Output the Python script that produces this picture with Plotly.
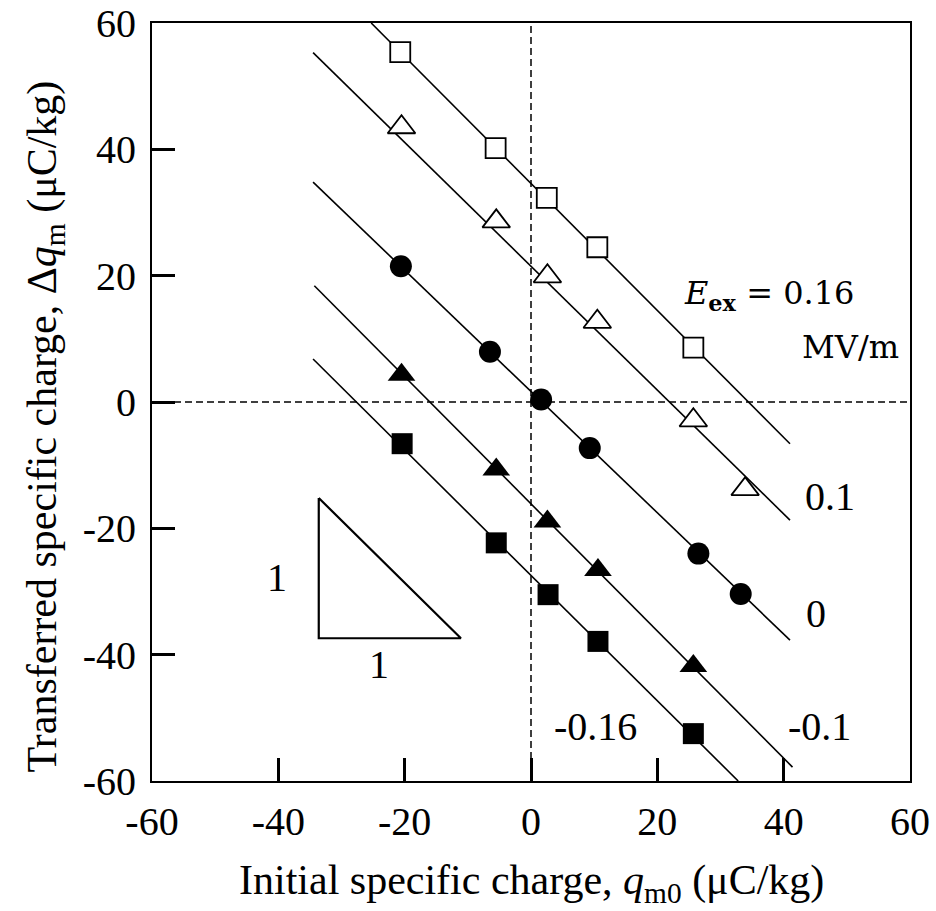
import plotly.graph_objects as go

# ---- data ----
field_labels = ["0.16", "0.1", "0", "-0.1", "-0.16"]

x_open_sq = [-20.7, -5.6, 2.5, 10.5, 25.7]
y_open_sq = [55.4, 40.2, 32.3, 24.5, 8.6]

x_open_tri = [-20.5, -5.5, 2.6, 10.5, 25.7, 33.9]
y_open_tri = [43.5, 28.6, 19.9, 12.7, -2.9, -13.8]

x_circ = [-20.6, -6.5, 1.6, 9.3, 26.5, 33.2]
y_circ = [21.5, 7.95, 0.4, -7.3, -24.0, -30.4]

x_fill_tri = [-20.5, -5.5, 2.6, 10.6, 25.7]
y_fill_tri = [4.3, -10.7, -18.9, -26.6, -41.8]

x_fill_sq = [-20.4, -5.5, 2.7, 10.6, 25.7]
y_fill_sq = [-6.6, -22.3, -30.5, -37.9, -52.5]

# fitted lines (two end points each)
fit_x_016 = [-25.3, 41.0]
fit_y_016 = [60.0, -6.6]
fit_x_01 = [-34.5, 41.0]
fit_y_01 = [55.3, -18.7]
fit_x_0 = [-34.5, 41.0]
fit_y_0 = [34.8, -37.7]
fit_x_m01 = [-34.3, 41.4]
fit_y_m01 = [18.4, -57.8]
fit_x_m016 = [-34.5, 32.8]
fit_y_m016 = [6.8, -60.0]

# slope (1:1) triangle
slope_x = [-33.6, -33.6, -11.1, -33.6]
slope_y = [-15.2, -37.4, -37.4, -15.2]

ticks = [-60, -40, -20, 0, 20, 40, 60]

FONT = "Liberation Serif, Times New Roman, serif"
BLACK = "black"

fig = go.Figure()

# reference dashed zero lines
fig.add_trace(go.Scatter(x=[0, 0], y=[-60, 60], mode="lines",
                         line=dict(color=BLACK, width=1.5, dash="7px,4px"),
                         showlegend=False, hoverinfo="skip"))
fig.add_trace(go.Scatter(x=[-60, 60], y=[0, 0], mode="lines",
                         line=dict(color=BLACK, width=1.5, dash="7px,4px"),
                         showlegend=False, hoverinfo="skip"))

# fit lines
for fx, fy in [(fit_x_016, fit_y_016), (fit_x_01, fit_y_01), (fit_x_0, fit_y_0),
               (fit_x_m01, fit_y_m01), (fit_x_m016, fit_y_m016)]:
    fig.add_trace(go.Scatter(x=fx, y=fy, mode="lines",
                             line=dict(color=BLACK, width=1.6),
                             showlegend=False, hoverinfo="skip"))

# slope triangle
fig.add_trace(go.Scatter(x=slope_x, y=slope_y, mode="lines",
                         line=dict(color=BLACK, width=2.2),
                         showlegend=False, hoverinfo="skip"))

# markers
fig.add_trace(go.Scatter(x=x_open_sq, y=y_open_sq, mode="markers", name=field_labels[0],
                         marker=dict(symbol="square", size=20, color="white",
                                     line=dict(color=BLACK, width=1.8)),
                         showlegend=False, cliponaxis=False))
fig.add_trace(go.Scatter(x=x_open_tri, y=y_open_tri, mode="markers", name=field_labels[1],
                         marker=dict(symbol="triangle-up", size=24, color="white",
                                     line=dict(color=BLACK, width=1.8)),
                         showlegend=False))
fig.add_trace(go.Scatter(x=x_circ, y=y_circ, mode="markers", name=field_labels[2],
                         marker=dict(symbol="circle", size=22, color=BLACK,
                                     line=dict(color=BLACK, width=0)),
                         showlegend=False))
fig.add_trace(go.Scatter(x=x_fill_tri, y=y_fill_tri, mode="markers", name=field_labels[3],
                         marker=dict(symbol="triangle-up", size=24, color=BLACK,
                                     line=dict(color=BLACK, width=0)),
                         showlegend=False))
fig.add_trace(go.Scatter(x=x_fill_sq, y=y_fill_sq, mode="markers", name=field_labels[4],
                         marker=dict(symbol="square", size=21, color=BLACK,
                                     line=dict(color=BLACK, width=0)),
                         showlegend=False))

annots = []
def txt(x, y, s, size=40, xanchor="center", yanchor="middle", family=FONT):
    annots.append(dict(x=x, y=y, xref="x", yref="y", text=s, showarrow=False,
                       xanchor=xanchor, yanchor=yanchor,
                       font=dict(family=family, size=size, color=BLACK)))

txt(47.3, -15.0, field_labels[1])
txt(45.1, -33.5, field_labels[2])
txt(45.6, -51.3, field_labels[3])
txt(10.2, -51.3, field_labels[4])
txt(-40.2, -27.8, "1")
txt(-24.1, -41.5, "1")
txt(51.5, 17.0, "<i>E</i><sub><b>ex</b></sub> = 0.16", size=32, xanchor="right",
    family="DejaVu Serif, serif")
txt(58.6, 8.7, "MV/m", size=32, xanchor="right", family="DejaVu Serif, serif")

# axis titles (placed as paper annotations)
annots.append(dict(x=0.5, y=-0.135, xref="paper", yref="paper", showarrow=False,
                   xanchor="center", yanchor="middle",
                   text="Initial specific charge, <i>q</i><sub>m0</sub> (μC/kg)",
                   font=dict(family=FONT, size=42, color=BLACK)))
annots.append(dict(x=-0.141, y=0.468, xref="paper", yref="paper", showarrow=False,
                   xanchor="center", yanchor="middle", textangle=-90,
                   text="Transferred specific charge, Δ<i>q</i><sub>m</sub> (μC/kg)",
                   font=dict(family=FONT, size=42, color=BLACK)))

axis_common = dict(
    range=[-60, 60], tickvals=ticks, ticktext=[str(t) for t in ticks],
    ticks="inside", ticklen=23, tickwidth=2.6, tickcolor=BLACK,
    showline=True, linecolor=BLACK, linewidth=1.8, mirror=True,
    showgrid=False, zeroline=False, automargin=False,
    tickfont=dict(family=FONT, size=40, color=BLACK),
)

fig.update_layout(
    width=936, height=911,
    margin=dict(l=152, r=26, t=23, b=130),
    paper_bgcolor="white", plot_bgcolor="white",
    xaxis=dict(axis_common, ticklabelstandoff=4),
    yaxis=dict(axis_common, ticklabelstandoff=6),
    annotations=annots,
    showlegend=False,
)

fig.write_html("out.html")
